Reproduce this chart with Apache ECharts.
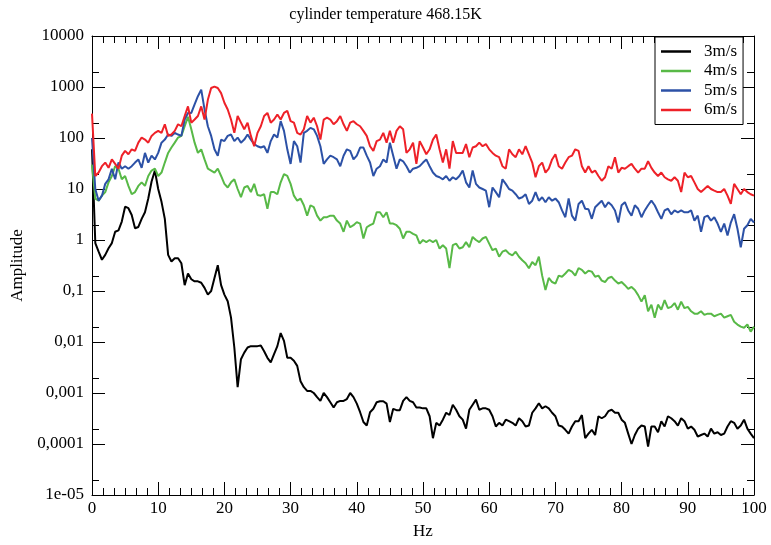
<!DOCTYPE html>
<html>
<head>
<meta charset="utf-8">
<script src="https://cdn.jsdelivr.net/npm/echarts@6/dist/echarts.min.js"></script>
<style>
  html, body { margin: 0; padding: 0; background: #fff; }
  #main { width: 771px; height: 545px; }
</style>
</head>
<body>
<div id="main"></div>
<script>
// frequency grid, every 0.5 Hz from 0 to 100
var hzStep = 0.5;
var hz = [];
for (var i = 0; i <= 200; i++) hz.push(i * hzStep);

var seriesNames = ['3m/s', '4m/s', '5m/s', '6m/s'];
var seriesColors = ['#000000', '#58b947', '#2c51a6', '#ee2128'];
var yMinorTicks = [2e-5, 2e-4, 2e-3, 0.02, 0.2, 2, 20, 200, 2000];

// amplitudes (one value per 0.5 Hz)
var amp3 = [
  60, 0.87, 0.59, 0.41, 0.51, 0.69, 0.87, 1.45, 1.55, 2.3,
  4.5, 4.2, 3.1, 1.7, 1.8, 2.6, 3.5, 6.5, 14, 23,
  10, 5.6, 2.6, 0.51, 0.38, 0.44, 0.44, 0.35, 0.13, 0.22,
  0.17, 0.155, 0.155, 0.145, 0.115, 0.085, 0.1, 0.18, 0.32, 0.13,
  0.085, 0.063, 0.03, 0.0078, 0.0013, 0.0046, 0.0062, 0.0078, 0.0083, 0.0083,
  0.0083, 0.0085, 0.0066, 0.0049, 0.004, 0.0058, 0.0083, 0.015, 0.0105, 0.0049,
  0.0049, 0.0043, 0.0034, 0.0017, 0.0013, 0.0011, 0.0011, 0.001, 0.00083, 0.0007,
  0.001, 0.00083, 0.00066, 0.00052, 0.00066, 0.0007, 0.0007, 0.00076, 0.001, 0.00083,
  0.00062, 0.00042, 0.00027, 0.00023, 0.00042, 0.00049, 0.00066, 0.00069, 0.00069, 0.00062,
  0.00027, 0.00049, 0.00046, 0.00046, 0.0007, 0.00083, 0.0007, 0.00066, 0.00052, 0.00052,
  0.0005, 0.0005, 0.00035, 0.00013, 0.00026, 0.00023, 0.0003, 0.00041, 0.00037, 0.00059,
  0.00047, 0.00035, 0.0003, 0.0002, 0.00047, 0.00059, 0.00074, 0.00047, 0.0005, 0.0005,
  0.00047, 0.00035, 0.00022, 0.00026, 0.00023, 0.0003, 0.00028, 0.00026, 0.00023, 0.00032,
  0.00028, 0.00022, 0.00023, 0.00041, 0.0005, 0.00063, 0.0005, 0.00055, 0.0005, 0.00041,
  0.00035, 0.00023, 0.00022, 0.00019, 0.00016, 0.00022, 0.00028, 0.00028, 0.00037, 0.00013,
  0.00016, 0.00019, 0.00015, 0.00035, 0.00032, 0.00035, 0.00044, 0.00047, 0.00041, 0.00041,
  0.0003, 0.00026, 0.00016, 0.0001, 0.00015, 0.0002, 0.00023, 0.00022, 0.000089, 0.00022,
  0.00022, 0.00017, 0.00028, 0.00022, 0.00035, 0.00032, 0.00028, 0.00023, 0.00032, 0.00028,
  0.0002, 0.00022, 0.00019, 0.00014, 0.00015, 0.00016, 0.00014, 0.0002, 0.00016, 0.00017,
  0.00015, 0.00016, 0.00022, 0.00028, 0.00026, 0.0002, 0.00023, 0.0003, 0.0002, 0.00016,
  0.00013
];
var amp4 = [
  30, 6.5, 5.9, 7.4, 8.7, 13.5, 18, 28, 25, 15.5,
  18, 11.5, 7.9, 8.7, 11.5, 13.5, 11.5, 18, 23, 25,
  18, 21, 33, 51, 65, 81, 102, 110, 170, 260,
  148, 81, 51, 60, 38, 25, 23, 21, 25, 18,
  12.6, 10.7, 13.5, 15.5, 10, 6.9, 10.7, 11.5, 8.7, 12.6,
  7.6, 7.4, 7.9, 4.1, 8.7, 8.7, 7.9, 13.5, 19.5, 18,
  12.6, 7.4, 5.9, 6.5, 4.8, 3.0, 4.8, 4.4, 3.0, 2.4,
  2.8, 2.8, 3.0, 3.0, 2.4, 2.1, 1.45, 2.4, 1.78, 1.95,
  2.24, 2.1, 1.07, 1.78, 1.95, 2.1, 3.5, 3.5, 2.8, 3.5,
  2.1, 2.1, 1.95, 1.66, 1.07, 1.45, 1.45, 1.32, 1.23, 0.85,
  1.0, 0.91, 1.0, 0.91, 1.0, 0.68, 0.79, 0.68, 0.28, 0.79,
  0.85, 0.68, 0.72, 0.91, 0.72, 1.15, 1.0, 0.91, 1.07, 1.15,
  0.85, 0.63, 0.68, 0.47, 0.59, 0.63, 0.54, 0.5, 0.59, 0.47,
  0.4, 0.35, 0.28, 0.37, 0.32, 0.47, 0.2, 0.105, 0.18, 0.15,
  0.14, 0.2, 0.19, 0.22, 0.26, 0.24, 0.2, 0.28, 0.26, 0.22,
  0.25, 0.24, 0.19, 0.2, 0.16, 0.15, 0.18, 0.19, 0.16, 0.14,
  0.15, 0.13, 0.11, 0.12, 0.105, 0.083, 0.062, 0.083, 0.04, 0.054,
  0.03, 0.054, 0.043, 0.066, 0.046, 0.049, 0.058, 0.043, 0.062, 0.046,
  0.049, 0.04, 0.036, 0.036, 0.04, 0.034, 0.036, 0.036, 0.032, 0.034,
  0.036, 0.03, 0.032, 0.034, 0.025, 0.022, 0.02, 0.019, 0.022, 0.016,
  0.02
];
var amp5 = [
  100, 10, 5.9, 7.4, 12.6, 15.5, 25, 15.5, 33, 25,
  28, 25, 28, 33, 38, 26, 51, 33, 45, 38,
  51, 81, 93, 117, 110, 126, 117, 110, 230, 310,
  310, 457, 660, 890, 363, 170, 110, 60, 45, 93,
  87, 110, 117, 87, 102, 81, 93, 117, 93, 76,
  69, 65, 69, 51, 87, 117, 102, 214, 138, 60,
  31, 87, 69, 33, 126, 138, 158, 148, 110, 69,
  31, 38, 45, 42, 38, 28, 45, 60, 56, 38,
  45, 65, 65, 45, 33, 18, 25, 28, 38, 33,
  81, 45, 25, 38, 35, 28, 21, 25, 26, 28,
  33, 38, 28, 21, 18, 17, 15.5, 18, 14.5, 17,
  15.5, 18, 23, 13.5, 10.7, 23, 12.6, 10.7, 10, 9.3,
  4.4, 10.7, 8.7, 6.9, 15.5, 12.6, 10, 9.3, 7.9, 6.5,
  6.9, 7.9, 5.1, 5.9, 8.7, 5.9, 6.9, 5.5, 6.9, 5.9,
  6.5, 5.5, 3.8, 2.8, 6.5, 3.0, 2.4, 5.1, 5.9, 4.1,
  4.0, 2.6, 4.4, 5.1, 5.9, 4.4, 5.5, 4.8, 3.8, 2.2,
  4.8, 5.5, 3.8, 3.0, 4.8, 4.1, 2.8, 3.8, 4.8, 5.9,
  4.8, 3.5, 2.6, 3.8, 4.1, 3.2, 3.8, 3.5, 3.8, 3.5,
  3.5, 3.8, 2.4, 3.0, 1.45, 2.8, 3.0, 2.4, 2.8, 2.1,
  1.45, 2.1, 1.23, 2.2, 3.2, 1.66, 0.72, 1.66, 1.95, 2.6,
  2.2
];
var amp6 = [
  300, 18, 21, 28, 33, 26, 38, 31, 25, 45,
  56, 48, 60, 56, 81, 102, 93, 81, 110, 126,
  138, 126, 186, 110, 117, 138, 186, 170, 270, 417,
  200, 230, 270, 417, 230, 560, 955, 1020, 955, 760,
  490, 363, 230, 126, 270, 200, 148, 200, 110, 69,
  126, 170, 270, 310, 200, 230, 290, 230, 310, 340,
  214, 200, 126, 117, 148, 270, 200, 250, 170, 93,
  230, 250, 230, 186, 214, 270, 186, 138, 200, 214,
  186, 170, 138, 110, 69, 56, 87, 93, 126, 81,
  138, 81, 138, 170, 148, 51, 60, 81, 31, 87,
  65, 48, 60, 93, 117, 60, 33, 60, 25, 87,
  51, 51, 51, 76, 42, 65, 69, 81, 69, 76,
  60, 51, 45, 42, 28, 25, 60, 48, 42, 60,
  48, 69, 48, 33, 17, 28, 33, 21, 25, 38,
  48, 28, 25, 33, 42, 45, 60, 56, 28, 21,
  28, 21, 23, 18, 14.5, 17, 28, 25, 42, 21,
  26, 25, 28, 31, 25, 21, 25, 25, 35, 26,
  21, 18, 21, 17, 15.5, 14.5, 17, 14.5, 8.7, 21,
  17, 18, 13.5, 10, 8.7, 10, 11.5, 10, 9.3, 8.7,
  8.7, 10, 7.4, 5.1, 12.6, 10, 7.9, 10, 8.7, 7.9,
  7.4
];
var amps = [amp3, amp4, amp5, amp6];

function pairs(ys) {
  return hz.map(function(x, k) { return [x, ys[k]]; });
}

// 10^n -> 10000 / 0,01 / 1e-05 like the original
function fmtAmp(v) {
  var n = Math.round(Math.log10(v));
  if (n >= 0) return String(Math.pow(10, n));
  if (n >= -4) return '0,' + new Array(-n).join('0') + '1';
  return '1e-0' + (-n);
}

var serif = 'Liberation Serif';
var chart = echarts.init(document.getElementById('main'));

var tickMajor = { show: true, inside: true, length: 13, lineStyle: { color: '#000', width: 1 } };
var tickMinor = { show: true, splitNumber: 6, length: 7, lineStyle: { color: '#000', width: 1 } };
var frameLine = { show: true, onZero: false, lineStyle: { color: '#000', width: 1 } };

var option = {
  animation: false,
  backgroundColor: '#fff',
  title: {
    text: 'cylinder temperature 468.15K',
    left: 'center',
    top: 2,
    textStyle: { fontFamily: serif, fontSize: 16, fontWeight: 'normal', color: '#000' }
  },
  legend: {
    orient: 'vertical',
    left: 655,
    top: 37,
    padding: [6, 6, 6, 6],
    itemGap: 2.5,
    itemWidth: 30,
    itemHeight: 2.5,
    icon: 'rect',
    borderColor: '#000',
    borderWidth: 1,
    backgroundColor: '#fff',
    textStyle: { fontFamily: serif, fontSize: 17, color: '#000', padding: [0, 0, 0, 8] },
    data: seriesNames
  },
  grid: { left: 92, right: 17, top: 36, bottom: 46 },
  xAxis: [{
    type: 'value', min: 0, max: 100, interval: 10,
    name: 'Hz', nameLocation: 'middle', nameGap: 28,
    nameTextStyle: { fontFamily: serif, fontSize: 17, color: '#000' },
    axisLine: frameLine, axisTick: tickMajor, minorTick: tickMinor,
    splitLine: { show: false },
    axisLabel: { fontFamily: serif, fontSize: 17, color: '#000', margin: 5 }
  }, {
    type: 'value', position: 'top', min: 0, max: 100, interval: 10,
    axisLine: frameLine, axisTick: tickMajor, minorTick: tickMinor,
    splitLine: { show: false }, axisLabel: { show: false }
  }],
  yAxis: [{
    type: 'log', logBase: 10, min: 1e-5, max: 1e4, splitNumber: 9,
    name: 'Amplitude', nameLocation: 'middle', nameGap: 63,
    nameTextStyle: { fontFamily: serif, fontSize: 17, color: '#000' },
    axisLine: frameLine, axisTick: tickMajor,
    splitLine: { show: false },
    axisLabel: { fontFamily: serif, fontSize: 17, color: '#000', margin: 8, formatter: fmtAmp }
  }, {
    type: 'log', logBase: 10, min: 1e-5, max: 1e4, splitNumber: 9, position: 'right',
    axisLine: frameLine, axisTick: tickMajor,
    splitLine: { show: false }, axisLabel: { show: false }
  }],
  series: amps.map(function(ys, k) {
    return {
      name: seriesNames[k],
      type: 'line',
      symbol: 'none',
      showSymbol: false,
      color: seriesColors[k],
      lineStyle: { color: seriesColors[k], width: 2 },
      data: pairs(ys)
    };
  })
};
chart.setOption(option);

// minor ticks at 2x10^n on both vertical edges
var xl = chart.convertToPixel({ xAxisIndex: 0 }, 0);
var xr = chart.convertToPixel({ xAxisIndex: 0 }, 100);
var marks = [];
yMinorTicks.forEach(function(v) {
  var y = Math.round(chart.convertToPixel({ yAxisIndex: 0 }, v)) + 0.5;
  marks.push({ type: 'line', silent: true, shape: { x1: xl, y1: y, x2: xl + 7, y2: y }, style: { stroke: '#000', lineWidth: 1 } });
  marks.push({ type: 'line', silent: true, shape: { x1: xr - 7, y1: y, x2: xr, y2: y }, style: { stroke: '#000', lineWidth: 1 } });
});
chart.setOption({ graphic: marks });
</script>
</body>
</html>
